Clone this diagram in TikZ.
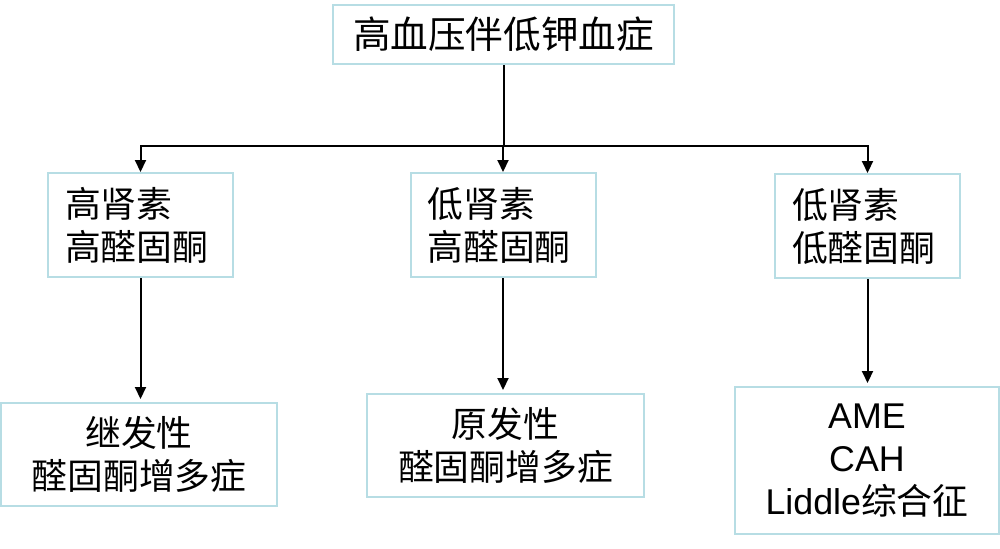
\documentclass[tikz,border=0pt]{standalone}
\usepackage{fontspec}
\setmainfont{Liberation Sans}
\newfontfamily\cjk{Noto Sans CJK SC}
\usetikzlibrary{arrows.meta}
\definecolor{boxline}{RGB}{183,221,228}

\begin{document}
\begin{tikzpicture}[x=0.5pt, y=-0.5pt,
        box/.style={draw=boxline, line width=1pt, inner sep=0pt,
            font=\cjk\fontsize{17.9}{21.5}\selectfont},
        midbox/.style={box, text width=75.5pt, inner xsep=8.5pt, align=left, minimum height=52pt},
        endbox/.style={box, align=center},
        arr/.style={line width=1pt, -{Triangle[width=5.5pt,length=6pt]}}]
            \useasboundingbox (0,0) rectangle (1000,548);

            % top box
            \node[box, font=\cjk\fontsize{18.8}{22}\selectfont, minimum width=170.5pt, minimum height=29.5pt] (hyp) at (503.5,34.5) {高血压伴低钾血症};

            % middle row
            \node[midbox] (renA) at (140.5,225) {高肾素\\高醛固酮};
            \node[midbox] (renB) at (503,225) {低肾素\\高醛固酮};
            \node[midbox] (renC) at (867.5,226) {低肾素\\低醛固酮};

            % bottom row
            \node[endbox, minimum width=138pt, minimum height=51.5pt] (secA) at (139,454.5) {继发性\\醛固酮增多症};
            \node[endbox, minimum width=138.5pt, minimum height=51.5pt] (priA) at (505.5,445.5) {原发性\\醛固酮增多症};
            \node[endbox, minimum width=132pt, minimum height=73.5pt] (ame) at (867,460.5)
                {{\rmfamily AME}\\{\rmfamily CAH}\\{\rmfamily Liddle}综合征};

            % branch from top box
            \coordinate (fork) at (hyp.south |- 0,146);
            \draw[line width=1pt] (hyp.south) -- (fork);
            \foreach \n in {renA,renB,renC}
                \draw[arr] (fork) -| (\n.north);

            % arrows down to the bottom row
            \draw[arr, shorten >=1.5pt] (renA.south) -- (renA.south |- secA.north);
            \draw[arr, shorten >=1.5pt] (renB.south) -- (renB.south |- priA.north);
            \draw[arr, shorten >=1.5pt] (renC.south) -- (renC.south |- ame.north);
        \end{tikzpicture}
\end{document}
